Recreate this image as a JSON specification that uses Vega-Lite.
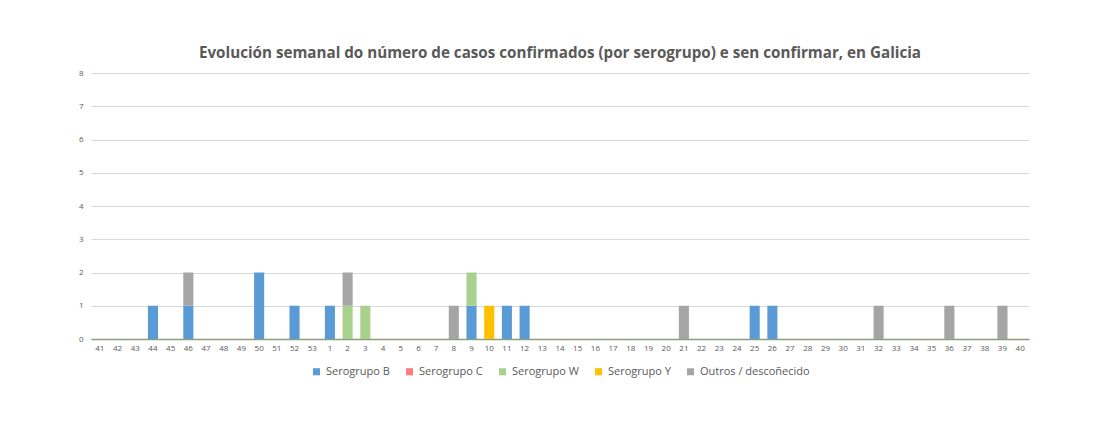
{
  "$schema": "https://vega.github.io/schema/vega-lite/v6.json",
  "autosize": {"type": "none"},
  "width": 938,
  "height": 266,
  "padding": {"left": 91, "top": 73, "right": 84, "bottom": 98},
  "background": "white",
  "title": {
    "text": "Evolución semanal do número de casos confirmados (por serogrupo) e sen confirmar, en Galicia",
    "font": "Open Sans",
    "fontSize": 15.2,
    "fontWeight": "bold",
    "color": "#595959",
    "anchor": "middle",
    "offset": 8
  },
  "config": {
    "view": {"stroke": null},
    "font": "Open Sans",
    "legend": {"layout": {"bottom": {"anchor": "middle"}}},
    "axis": {
      "labelFontSize": 8,
      "labelColor": "#595959",
      "ticks": false,
      "gridColor": "#d9d9d9",
      "gridWidth": 1
    }
  },
  "data": {
    "values": [
      {"semana": "44", "serogrupo": "Serogrupo B", "casos": 1},
      {"semana": "46", "serogrupo": "Serogrupo B", "casos": 1},
      {"semana": "46", "serogrupo": "Outros / descoñecido", "casos": 1},
      {"semana": "50", "serogrupo": "Serogrupo B", "casos": 2},
      {"semana": "52", "serogrupo": "Serogrupo B", "casos": 1},
      {"semana": "1", "serogrupo": "Serogrupo B", "casos": 1},
      {"semana": "2", "serogrupo": "Serogrupo W", "casos": 1},
      {"semana": "2", "serogrupo": "Outros / descoñecido", "casos": 1},
      {"semana": "3", "serogrupo": "Serogrupo W", "casos": 1},
      {"semana": "8", "serogrupo": "Outros / descoñecido", "casos": 1},
      {"semana": "9", "serogrupo": "Serogrupo B", "casos": 1},
      {"semana": "9", "serogrupo": "Serogrupo W", "casos": 1},
      {"semana": "10", "serogrupo": "Serogrupo Y", "casos": 1},
      {"semana": "11", "serogrupo": "Serogrupo B", "casos": 1},
      {"semana": "12", "serogrupo": "Serogrupo B", "casos": 1},
      {"semana": "21", "serogrupo": "Outros / descoñecido", "casos": 1},
      {"semana": "25", "serogrupo": "Serogrupo B", "casos": 1},
      {"semana": "26", "serogrupo": "Serogrupo B", "casos": 1},
      {"semana": "32", "serogrupo": "Outros / descoñecido", "casos": 1},
      {"semana": "36", "serogrupo": "Outros / descoñecido", "casos": 1},
      {"semana": "39", "serogrupo": "Outros / descoñecido", "casos": 1}
    ]
  },
  "transform": [
    {"calculate": "indexof(['Serogrupo B','Serogrupo C','Serogrupo W','Serogrupo Y','Outros / descoñecido'], datum.serogrupo)", "as": "orde"}
  ],
  "mark": {"type": "bar"},
  "encoding": {
    "x": {
      "field": "semana",
      "type": "ordinal",
      "title": null,
      "scale": {
        "domain": ["41","42","43","44","45","46","47","48","49","50","51","52","53","1","2","3","4","5","6","7","8","9","10","11","12","13","14","15","16","17","18","19","20","21","22","23","24","25","26","27","28","29","30","31","32","33","34","35","36","37","38","39","40"],
        "paddingInner": 0.43,
        "paddingOuter": 0.215
      },
      "axis": {
        "labelAngle": 0,
        "labelPadding": 5,
        "labelOverlap": false,
        "grid": false,
        "domain": true,
        "domainColor": "#8C9F7A",
        "domainWidth": 1.5
      }
    },
    "y": {
      "field": "casos",
      "type": "quantitative",
      "stack": "zero",
      "title": null,
      "scale": {"domain": [0, 8], "nice": false},
      "axis": {
        "values": [0, 1, 2, 3, 4, 5, 6, 7, 8],
        "labelPadding": 8,
        "labelOverlap": false,
        "domain": false
      }
    },
    "color": {
      "field": "serogrupo",
      "type": "nominal",
      "title": null,
      "scale": {
        "domain": ["Serogrupo B", "Serogrupo C", "Serogrupo W", "Serogrupo Y", "Outros / descoñecido"],
        "range": ["#5B9BD5", "#FF7C80", "#A9D18E", "#FFC000", "#A5A5A5"]
      },
      "legend": {
        "orient": "bottom",
        "direction": "horizontal",
        "symbolType": "square",
        "symbolSize": 50,
        "labelFontSize": 11,
        "labelColor": "#595959",
        "columnPadding": 14,
        "offset": 14
      }
    },
    "order": {"field": "orde", "type": "quantitative", "sort": "ascending"}
  }
}
